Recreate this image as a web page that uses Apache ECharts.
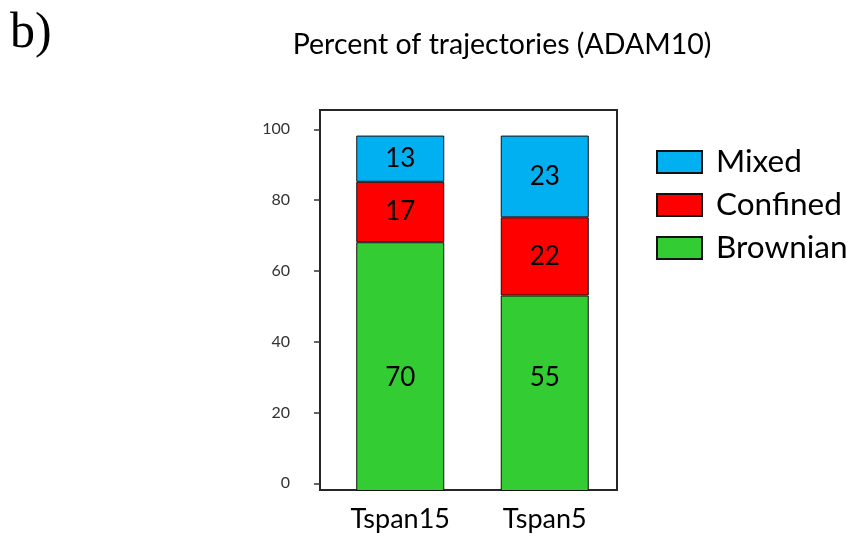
<!DOCTYPE html>
<html>
<head>
<meta charset="utf-8">
<script src="https://cdn.jsdelivr.net/npm/echarts@6/dist/echarts.min.js"></script>
<style>
  html, body { margin: 0; padding: 0; background: #fff; }
  #chart { width: 850px; height: 536px; }
</style>
</head>
<body>
<div id="chart"></div>
<script>
// Share of trajectory types per tetraspanin (percent)
const categories = ['Tspan15', 'Tspan5'];
const brownian = [70, 55];
const confined = [17, 22];
const mixed = [13, 23];
const tickValues = [0, 20, 40, 60, 80, 100];
const legendOrder = ['Mixed', 'Confined', 'Brownian'];

const FONT = 'Lato';
const colors = { Brownian: '#33CC33', Confined: '#FF0000', Mixed: '#00B0F0' };

function stackSeries(name, values, labelExtra) {
  return {
    name: name,
    type: 'bar',
    stack: 'total',
    xAxisIndex: 1,
    yAxisIndex: 1,
    barWidth: 88,
    data: values,
    itemStyle: { color: colors[name], borderColor: '#111', borderWidth: 1 },
    label: Object.assign({
      show: true,
      position: 'inside',
      color: '#000',
      fontFamily: FONT,
      fontSize: 26
    }, labelExtra || {})
  };
}

const chart = echarts.init(document.getElementById('chart'), null, { renderer: 'canvas' });
chart.setOption({
  animation: false,
  backgroundColor: '#fff',
  title: [
    {
      text: 'b)',
      left: 5,
      top: 4,
      textStyle: { fontFamily: 'Liberation Serif', fontWeight: 'normal', fontSize: 50, color: '#000' }
    },
    {
      text: 'Percent of trajectories (ADAM10)',
      left: 497,
      textAlign: 'center',
      top: 25,
      textStyle: { fontFamily: FONT, fontWeight: 'normal', fontSize: 28.5, color: '#000' }
    }
  ],
  legend: {
    data: legendOrder,
    orient: 'vertical',
    left: 656,
    top: 146,
    padding: 0,
    itemWidth: 45,
    itemHeight: 22,
    itemGap: 11,
    icon: 'rect',
    textStyle: { fontFamily: FONT, fontSize: 31.5, color: '#000', padding: [0, 0, 0, 9] }
  },
  grid: [
    // framed area carrying the percentage scale
    { left: 320, right: 233, top: 110, bottom: 46, show: true, borderColor: '#262626', borderWidth: 2, backgroundColor: 'transparent' },
    // area holding the stacked bars
    { left: 328, right: 233, top: 110, bottom: 45 }
  ],
  xAxis: [
    { type: 'category', gridIndex: 0, data: categories, show: false },
    {
      type: 'category',
      gridIndex: 1,
      data: categories,
      axisLine: { show: false },
      axisTick: { show: false },
      axisLabel: { margin: 15, fontFamily: FONT, fontSize: 27, color: '#000' }
    }
  ],
  yAxis: [
    {
      type: 'value',
      gridIndex: 0,
      min: -1.9,
      max: 105.45,
      axisLine: { show: false },
      splitLine: { show: false },
      axisTick: { show: true, length: 6, inside: false, customValues: tickValues, lineStyle: { color: '#333', width: 1.5 } },
      axisLabel: { customValues: tickValues, margin: 30, fontFamily: FONT, fontSize: 16, color: '#333' }
    },
    {
      type: 'value',
      gridIndex: 1,
      min: 0,
      max: 107.2,
      show: false,
      splitLine: { show: false }
    }
  ],
  series: [
    stackSeries('Brownian', brownian, { position: 'insideBottom', distance: 100 }),
    stackSeries('Confined', confined),
    stackSeries('Mixed', mixed)
  ]
});
</script>
</body>
</html>
